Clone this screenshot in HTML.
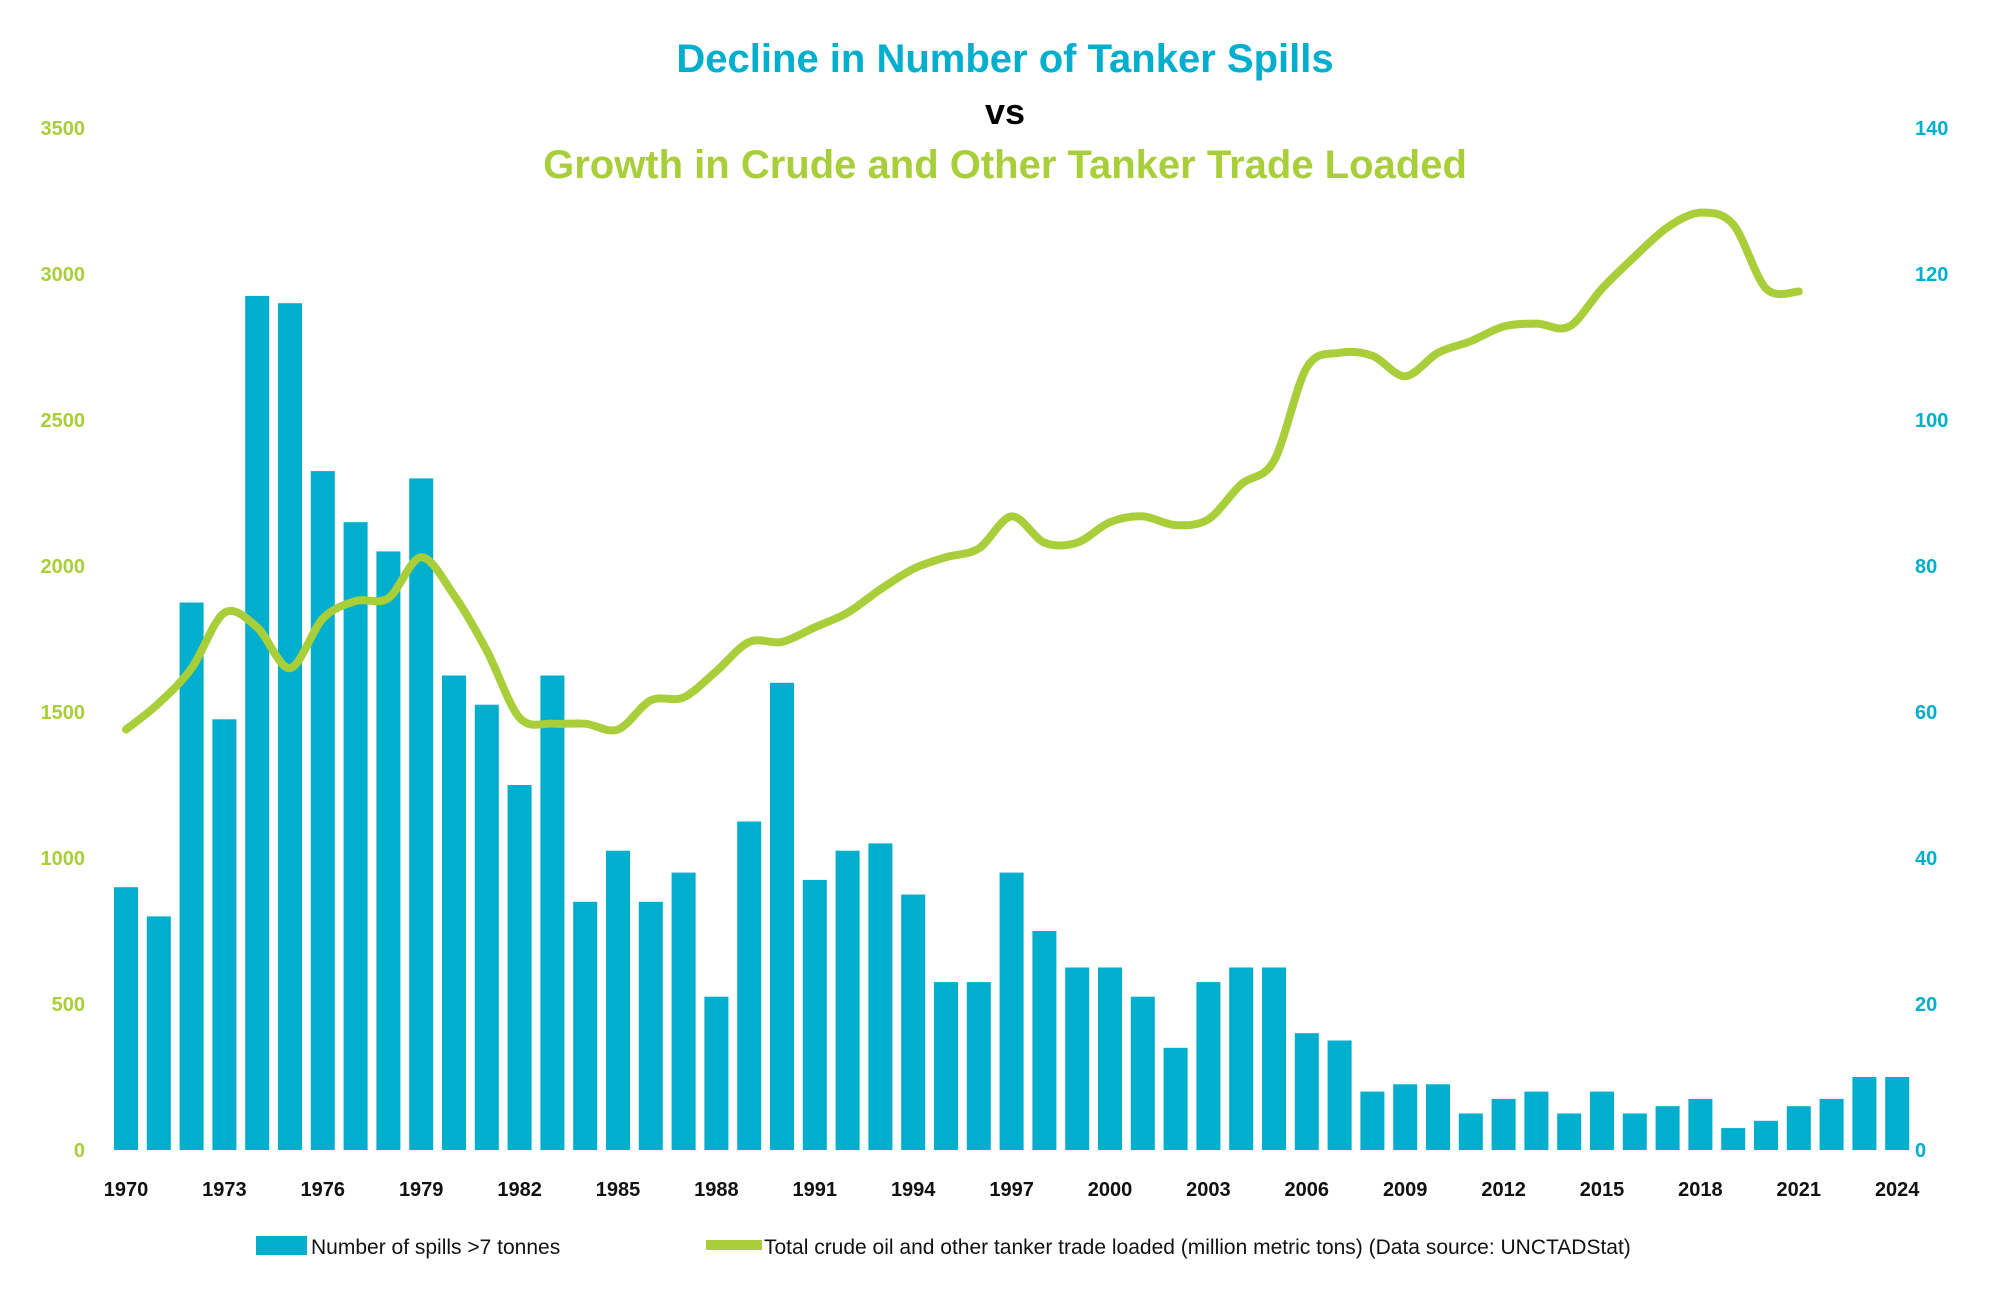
<!DOCTYPE html>
<html><head><meta charset="utf-8"><style>
html,body{margin:0;padding:0;background:#fff;}
svg{display:block;font-family:"Liberation Sans",sans-serif;}
</style></head><body>
<svg id="chart" width="2000" height="1296" viewBox="0 0 2000 1296">
<text x="1005" y="72" text-anchor="middle" font-size="40" font-weight="bold" fill="#00AECD">Decline in Number of Tanker Spills</text>
<text x="1005" y="124" text-anchor="middle" font-size="36" font-weight="bold" fill="#000">vs</text>
<text x="1005" y="178" text-anchor="middle" font-size="40" font-weight="bold" fill="#A8CF3A">Growth in Crude and Other Tanker Trade Loaded</text>
<g id="bars"></g>
<g id="lineg"></g>
<g id="axes"></g>
<g>
<rect x="256" y="1236" width="51" height="19" fill="#00AECD"/>
<text x="311" y="1254" font-size="21" fill="#111">Number of spills &gt;7 tonnes</text>
<rect x="706" y="1240" width="56" height="10" fill="#A8CF3A"/>
<text x="764" y="1254" font-size="21" fill="#111">Total crude oil and other tanker trade loaded (million metric tons) (Data source: UNCTADStat)</text>
</g>
</svg>
<script>
const years = [];
for (let y = 1970; y <= 2024; y++) years.push(y);
const spills = [36,32,75,59,117,116,93,86,82,92,65,61,50,65,34,41,34,38,21,45,64,37,41,42,35,23,23,38,30,25,25,21,14,23,25,25,16,15,8,9,9,5,7,8,5,8,5,6,7,3,4,6,7,10,10];
const tradeYears = [];
for (let y = 1970; y <= 2021; y++) tradeYears.push(y);
const trade = [1440,1530,1650,1840,1790,1650,1820,1880,1890,2030,1900,1710,1480,1460,1460,1440,1540,1550,1640,1740,1740,1790,1840,1920,1990,2030,2060,2170,2080,2080,2150,2170,2140,2160,2280,2360,2680,2730,2720,2650,2730,2770,2820,2830,2820,2950,3060,3160,3210,3170,2950,2940];
const leftTicks = [0,500,1000,1500,2000,2500,3000,3500];
const rightTicks = [0,20,40,60,80,100,120,140];
const xLabels = [1970,1973,1976,1979,1982,1985,1988,1991,1994,1997,2000,2003,2006,2009,2012,2015,2018,2021,2024];

const NS = "http://www.w3.org/2000/svg";
const Y0 = 1150, YTOP = 128;
const x0 = 114, pitch = 32.8, bw = 24;
function xBand(yr){ return x0 + (yr - 1970) * pitch; }
function xMid(yr){ return xBand(yr) + bw/2; }
function yLeft(v){ return Y0 - v * (Y0 - YTOP) / 3500; }
function yRight(v){ return Y0 - v * (Y0 - YTOP) / 140; }
function mk(tag, attrs){ const e = document.createElementNS(NS, tag); for (const k in attrs) e.setAttribute(k, attrs[k]); return e; }

const bars = document.getElementById('bars');
years.forEach((yr, i) => {
  const r = mk('rect', {x: xBand(yr), y: yRight(spills[i]), width: bw, height: Y0 - yRight(spills[i]), fill: '#00AECD'});
  
  
  bars.appendChild(r);
});

const pts = tradeYears.map((yr, i) => [xMid(yr), yLeft(trade[i])]);
let d = 'M' + pts[0][0] + ',' + pts[0][1];
for (let i = 0; i < pts.length - 1; i++) {
  const p0 = pts[Math.max(0, i-1)], p1 = pts[i], p2 = pts[i+1], p3 = pts[Math.min(pts.length-1, i+2)];
  const t = 0.16;
  const c1 = [p1[0] + (p2[0]-p0[0])*t, p1[1] + (p2[1]-p0[1])*t];
  const c2 = [p2[0] - (p3[0]-p1[0])*t, p2[1] - (p3[1]-p1[1])*t];
  d += ' C' + c1.join(',') + ' ' + c2.join(',') + ' ' + p2.join(',');
}
const line = mk('path', {d: d, fill: 'none', stroke: '#A8CF3A', 'stroke-width': 8, 'stroke-linecap': 'round', 'stroke-linejoin': 'round'});


document.getElementById('lineg').appendChild(line);

const axes = document.getElementById('axes');
leftTicks.forEach(v => {
  const t = mk('text', {x: 85, y: yLeft(v) + 7, 'text-anchor': 'end', 'font-size': 20, 'font-weight': 'bold', fill: '#A8CF3A'});
  t.textContent = v;
  
  
  axes.appendChild(t);
});
rightTicks.forEach(v => {
  const t = mk('text', {x: 1915, y: yRight(v) + 7, 'text-anchor': 'start', 'font-size': 20, 'font-weight': 'bold', fill: '#00AECD'});
  t.textContent = v;
  
  
  axes.appendChild(t);
});
xLabels.forEach(yr => {
  const t = mk('text', {x: xMid(yr), y: 1196, 'text-anchor': 'middle', 'font-size': 20, 'font-weight': 'bold', fill: '#111'});
  t.textContent = yr;
  
  
  axes.appendChild(t);
});
</script>
</body></html>
